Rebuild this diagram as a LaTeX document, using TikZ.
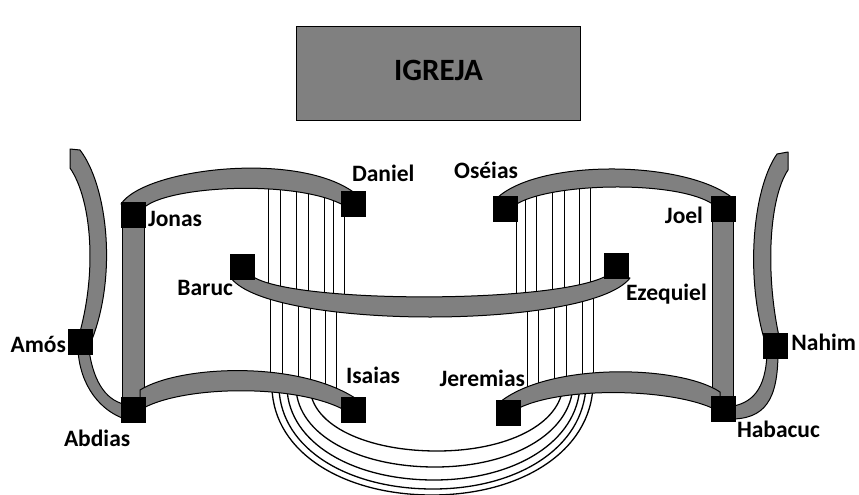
\documentclass[tikz,border=0pt]{standalone}
\usepackage{fontspec}
\setmainfont{Carlito}
\definecolor{bandgray}{HTML}{808080}
\tikzset{
  band/.style={fill=bandgray, draw=black, line width=1pt, line join=round},
  sq/.style={fill=black, draw=none, minimum width=25pt, minimum height=26pt, inner sep=0pt, outer sep=0pt},
  lbl/.style={font=\fontsize{23.5}{24}\selectfont\bfseries, inner sep=0pt, outer sep=0pt},
  vline/.style={line width=0.7pt, black},
  arcline/.style={line width=1.3pt, black},
  boxstyle/.style={draw=black, line width=1.5pt, fill=bandgray, minimum width=284pt, minimum height=94pt, inner sep=0pt,
    font=\fontsize{31}{31}\selectfont\bfseries, text height=20pt, text depth=5.6pt}
}
\begin{document}
\begin{tikzpicture}[x=1pt,y=-1pt]
\useasboundingbox (0,0) rectangle (859,495);

% church box
\node[boxstyle] (igreja) at (438.5,73.5) {IGREJA};

% thin vertical strings
\foreach \x/\a/\b in {268/178/291, 280/179/293, 296/180/296, 308/183/298, 324/188/301, 333/192/302, 344/205/303,
                      270/292/382, 282/294/382, 298/297/385, 310/299/387, 325/301/391, 336/302/396,
                      516/205/304, 525/190/303, 536/186/302, 552/182/300, 564/180/298, 579/178/295, 590/178/293,
                      527/303/393, 538/302/390, 554/300/386, 566/298/385, 582/295/383, 593/293/382}
  \draw[vline] (\x,\a) -- (\x,\b);

% bottom arcs
\draw[arcline] (272,388) .. controls (274,452.8) and (344,495) .. (432,495) .. controls (520.5,495) and (591,451.6) .. (593,385);
\draw[arcline] (279,388) .. controls (281,449.2) and (348.3,489) .. (433,489) .. controls (517.2,489) and (584,448) .. (586,385);
\draw[arcline] (287,388) .. controls (289,443.2) and (353.2,480) .. (434,480) .. controls (514.3,480) and (578,442) .. (580,385);
\draw[arcline] (296,388) .. controls (298,435.2) and (358.6,467) .. (435,467) .. controls (510.9,467) and (571,434.2) .. (573,385);
\draw[arcline] (310,388) .. controls (312,425.8) and (367.2,451) .. (437,451) .. controls (506.3,451) and (561,424.6) .. (563,385);

% vertical bars
\draw[band] (122,215) rectangle (144.5,410);
\draw[band] (712,209) rectangle (733.5,409);

% top-left arch
\draw[band] (121,204) .. controls (145,168) and (300,150) .. (356,194) -- (345,206) .. controls (300,180) and (175,185) .. (146,206) -- cycle;
% top-right arch
\draw[band] (497,198) .. controls (540,158) and (690,160) .. (735,200) -- (714,205) .. controls (680,180) and (550,182) .. (515,205) -- cycle;
% middle band
\draw[band] (252,276) .. controls (290,304) and (560,304) .. (608,275) -- (630,278) .. controls (590,330) and (270,330) .. (231,278) -- cycle;
% bottom-left arch
\draw[band] (140,390) .. controls (180,365) and (300,360) .. (358,400) -- (348,412) .. controls (300,383) and (180,385) .. (140,410) -- cycle;
% bottom-right arch
\draw[band] (500,402) .. controls (550,362) and (680,365) .. (720,392) -- (720,412) .. controls (680,388) and (560,385) .. (515,410) -- cycle;
% Amos arcs
\draw[band] (70,149) -- (80,150) .. controls (107,185) and (118,275) .. (91,342) -- (77,342) .. controls (98,275) and (92,200) .. (70,168) -- cycle;
\draw[band] (78,350) .. controls (80,385) and (100,412) .. (128,420) -- (128,405) .. controls (108,402) and (94,385) .. (89,350) -- cycle;
% Nahim arcs
\draw[band] (788,152) -- (777,154) .. controls (752,190) and (745,280) .. (766,345) -- (781,345) .. controls (765,280) and (768,200) .. (788,170) -- cycle;
\draw[band] (778,352) .. controls (778,400) and (765,420) .. (728,419) -- (728,407) .. controls (752,404) and (766,390) .. (767,352) -- cycle;

% squares
\node[sq] (jonas) at (133.5,215) {};
\node[sq] (daniel) at (353.5,203.5) {};
\node[sq] (baruc) at (242.5,266.5) {};
\node[sq] (oseias) at (505.5,209) {};
\node[sq] (joel) at (723,209) {};
\node[sq] (ezequiel) at (616.5,266) {};
\node[sq] (amos) at (80,342) {};
\node[sq] (abdias) at (133,410) {};
\node[sq] (isaias) at (353.5,410) {};
\node[sq] (jeremias) at (508.5,412.5) {};
\node[sq] (habacuc) at (723,409) {};
\node[sq] (nahim) at (775.5,345.5) {};

% labels
\node[lbl, anchor=base west] (ljonas) at (148,226) {Jonas};
\node[lbl, anchor=base west] (ldaniel) at (352,181) {Daniel};
\node[lbl, anchor=base east] (lbaruc) at (233,295) {Baruc};
\node[lbl, anchor=base east] (loseias) at (518,178) {Oséias};
\node[lbl, anchor=base east] (ljoel) at (703,223) {Joel};
\node[lbl, anchor=base west] (lezequiel) at (626,300) {Ezequiel};
\node[lbl, anchor=base east] (lamos) at (66,352) {Amós};
\node[lbl, anchor=base west] (labdias) at (64,446) {Abdias};
\node[lbl, anchor=base west] (lisaias) at (346,383) {Isaias};
\node[lbl, anchor=base east] (ljeremias) at (525,386) {Jeremias};
\node[lbl, anchor=base west] (lhabacuc) at (737,437) {Habacuc};
\node[lbl, anchor=base east] (lnahim) at (856,350) {Nahim};
\end{tikzpicture}
\end{document}
